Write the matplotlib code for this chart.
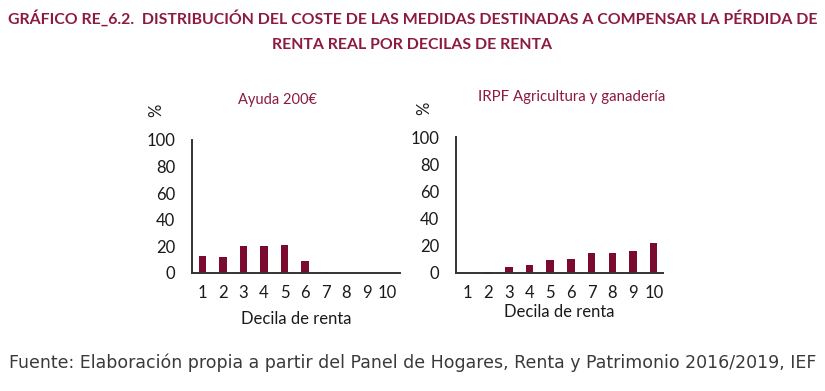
import matplotlib.pyplot as plt

deciles = [1, 2, 3, 4, 5, 6, 7, 8, 9, 10]
ayuda_200 = [13, 12, 20, 20, 21, 9, 0.8, 0.3, 0, 0]
irpf_agricultura = [0, 0.8, 4, 6, 9.5, 10.5, 15, 15, 16, 22]
y_ticks = [0, 20, 40, 60, 80, 100]

bar_color = '#7a0a2e'
title_color = '#8c1a40'

plt.rcParams['font.family'] = ['Lato', 'DejaVu Sans']

fig = plt.figure(figsize=(8.25, 3.91), dpi=100)

fig.text(0.5, 0.953, 'GRÁFICO RE_6.2.  DISTRIBUCIÓN DEL COSTE DE LAS MEDIDAS DESTINADAS A COMPENSAR LA PÉRDIDA DE',
         ha='center', va='center', fontsize=11.4, fontweight='bold', color=title_color)
fig.text(0.5, 0.884, 'RENTA REAL POR DECILAS DE RENTA',
         ha='center', va='center', fontsize=11.4, fontweight='bold', color=title_color)


def draw_panel(rect, values, title, xlim, title_x, title_y, title_size, pct_xy, xlabel_pad):
    ax = fig.add_axes(rect)
    ax.bar(deciles, values, width=0.36, color=bar_color)
    ax.set_xlim(*xlim)
    ax.set_ylim(0, 100)
    ax.set_yticks(y_ticks)
    ax.set_xticks(deciles)
    ax.tick_params(length=0, labelsize=12, colors='#1a1a1a')
    ax.tick_params(axis='x', pad=9)
    ax.tick_params(axis='y', pad=12)
    ax.spines['top'].set_visible(False)
    ax.spines['right'].set_visible(False)
    for s in ('left', 'bottom'):
        ax.spines[s].set_color('#333333')
        ax.spines[s].set_linewidth(1.4)
    ax.set_xlabel('Decila de renta', fontsize=12, color='#1a1a1a', labelpad=xlabel_pad)
    ax.text(pct_xy[0], pct_xy[1], '%', transform=ax.transAxes, rotation=90, fontsize=12,
            ha='center', va='center', color='#1a1a1a')
    ax.text(title_x, title_y, title, transform=ax.transAxes, ha='center', va='center',
            fontsize=title_size, color=title_color)
    return ax


draw_panel([0.2327, 0.302, 0.252, 0.340], ayuda_200, 'Ayuda 200€', (0.5, 10.6),
           0.41, 1.30, 10.5, (-0.17, 1.225), 7)
draw_panel([0.5527, 0.302, 0.251, 0.347], irpf_agricultura, 'IRPF Agricultura y ganadería', (0.45, 10.45),
           0.56, 1.295, 10.8, (-0.155, 1.21), 2)

fig.text(0.5, 0.072, 'Fuente: Elaboración propia a partir del Panel de Hogares, Renta y Patrimonio 2016/2019, IEF',
         ha='center', va='center', fontsize=12.5, color='#3a3a3a', family='DejaVu Sans')

fig.savefig('out.png', dpi=100, facecolor='white')
